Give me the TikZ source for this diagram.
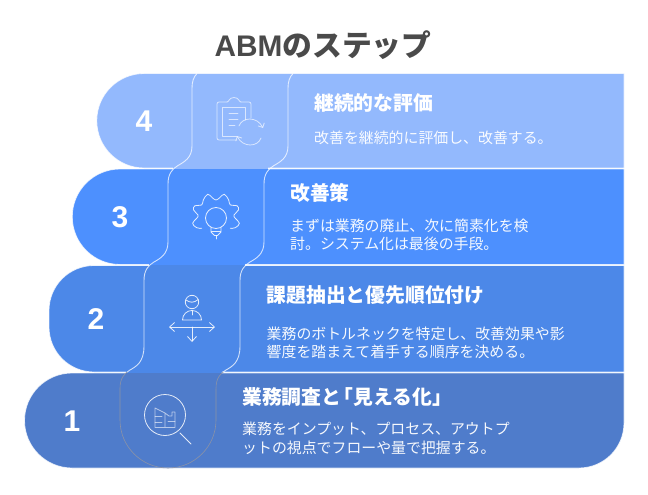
\documentclass[tikz,border=0pt]{standalone}
\usepackage{fontspec}
\usetikzlibrary{arrows.meta}
\newfontfamily\jp{Noto Sans CJK JP}
\newfontfamily\lat{Liberation Sans}
\definecolor{cfour}{HTML}{93B9FD}
\definecolor{cthree}{HTML}{4D90FE}
\definecolor{ctwo}{HTML}{4C88E8}
\definecolor{cone}{HTML}{4F7CCB}
\definecolor{ctitle}{HTML}{4A4A4A}
\definecolor{cgreyline}{HTML}{8C93A6}
\tikzset{
  bandfill/.style={draw=white,draw opacity=.75,line width=.8pt},
  wave/.style={draw=white,draw opacity=.75,line width=.9pt},
  iconline/.style={draw=white,line width=.8pt,line cap=round,line join=round},
  num/.style={text=white,font=\lat\bfseries\fontsize{30}{30}\selectfont,anchor=center},
  headtxt/.style={text=white,anchor=west,inner sep=0pt,font=\jp\bfseries\fontsize{19.8}{22}\selectfont},
  bodytxt/.style={text=white,text opacity=.95,anchor=west,inner sep=0pt,align=left,font=\jp\fontsize{14.9}{18.6}\selectfont},
  openhead/.style={-{Straight Barb[length=5pt,width=9pt,line width=.8pt]}}
}
% S-bend from column #1 down across a band boundary at #2
\newcommand\bend[2]{.. controls (#1,#2-10) and (#1-8,#2-6) .. (#1-14,#2-2.5) .. controls (#1-20,#2+1) and (#1-24,#2+6) .. (#1-24,#2+16)}
\begin{document}
\begin{tikzpicture}[x=1pt,y=-1pt]
\useasboundingbox (0,0) rectangle (648,495);
% bands
\path[bandfill,fill=cfour] (624,73.5) -- (144,73.5) .. controls (118,73.5) and (96.75,94.6) .. (96.75,120.75) .. controls (96.75,146.9) and (118,168) .. (144,168) -- (624,168) -- cycle;
\path[bandfill,fill=cthree] (624,169) -- (120,169) .. controls (93.6,169) and (72.25,190.4) .. (72.25,216.75) .. controls (72.25,243.1) and (93.6,264.5) .. (120,264.5) -- (624,264.5) -- cycle;
\path[bandfill,fill=ctwo] (624,265.5) -- (94,265.5) .. controls (69.1,265.5) and (49,285.6) .. (49,310.5) -- (49,327) .. controls (49,351.9) and (69.1,372) .. (94,372) -- (624,372) -- cycle;
\path[bandfill,fill=cone] (624,373) -- (72,373) .. controls (45.8,373) and (24.5,394.3) .. (24.5,420.5) .. controls (24.5,446.7) and (45.8,468) .. (72,468) -- (579,468) .. controls (603.9,468) and (624,447.9) .. (624,423) -- cycle;
% the column crosses the boundaries without white lines
\fill[cfour] (173,167) rectangle (268,168.6);
\fill[cthree] (173,168.6) rectangle (268,170);
\fill[cthree] (149,263.5) rectangle (245,264.9);
\fill[ctwo] (149,264.9) rectangle (245,266.5);
\fill[ctwo] (126,371) rectangle (222,372.6);
\fill[cone] (126,372.6) rectangle (222,374);
% column edges above band 1
\begin{scope}
\clip (0,0) rectangle (648,372.8);
\foreach \d in {0,96}{
\draw[wave,xshift=\d pt] (197,73.5) .. controls (193.5,77) and (192,82) .. (192,88) -- (192,146) \bend{192}{168} -- (168,242) \bend{168}{264.5} -- (144,346) \bend{144}{372.5};
}
\end{scope}
% column edges in band 1
\begin{scope}
\clip (0,372.8) rectangle (648,495);
\draw[draw=cgreyline,line width=.6pt] (144,346) \bend{144}{372.5} -- (120,420) .. controls (120,446.5) and (141.5,468) .. (168,468) .. controls (194.5,468) and (216,446.5) .. (216,420) -- (216,388.5);
\draw[draw=cgreyline,line width=.6pt] (240,346) \bend{240}{372.5};
\end{scope}
% numbers
\node[num] (n4) at (144,121) {4};
\node[num] (n3) at (120,217) {3};
\node[num] (n2) at (96,319) {2};
\node[num] (n1) at (72,421) {1};
% title
\node[text=ctitle,inner sep=0pt,anchor=center] (title) at (323,45) {\fontsize{29.8}{34}\selectfont\lat\bfseries ABM\jp\bfseries のステップ};
% texts
\node[headtxt] (h4) at (314,103) {継続的な評価};
\node[bodytxt] (b4) at (314,138) {改善を継続的に評価し、改善する。};
\node[headtxt] (h3) at (290,193) {改善策};
\node[bodytxt] (b3) at (290,235) {まずは業務の廃止、次に簡素化を検\\討。システム化は最後の手段。};
\node[headtxt] (h2) at (266.5,295) {課題抽出と優先順位付け};
\node[bodytxt] (b2) at (266.5,343) {業務のボトルネックを特定し、改善効果や影\\響度を踏まえて着手する順序を決める。};
\node[headtxt] (h1) at (242,397) {業務調査と\kern-7.5pt「見える化」};
\node[bodytxt] (b1) at (242,438.5) {業務をインプット、プロセス、アウトプ\\ットの視点でフローや量で把握する。};
% icon 4
\begin{scope}[iconline,draw opacity=.65]
\draw[rounded corners=2pt] (237,140) -- (217,140) -- (217,102) -- (227,102);
\draw (227,102) .. controls (229,102) and (229,97.5) .. (234,97.5) .. controls (239,97.5) and (239,102) .. (241,102);
\draw[rounded corners=2pt] (241,102) -- (251,102) -- (251,118);
\draw (237,136) -- (222,136) -- (222,107) -- (245,107) -- (245,120);
\draw (229,113.5) -- (238,113.5) (229,119.5) -- (238,119.5) (229,125) -- (235,125);
\draw[-{Straight Barb[length=3.5pt,width=7pt]}] (239,126) .. controls (242,117) and (257,116) .. (263,128);
\draw[-{Straight Barb[length=3.5pt,width=7pt]}] (261,138) .. controls (258,147) and (243,148) .. (237,136);
\end{scope}
% icon 3
\begin{scope}[iconline,draw opacity=.85]
\draw plot[smooth,tension=.7] coordinates {(201.7,228.3) (196.7,227.7) (192.6,223.3) (196.7,218.3) (198,215) (193.6,210) (195,205.7) (201.7,205) (203.3,200) (207.7,194.3) (212.3,197.7) (216,200) (219.7,197.7) (224.3,194.3) (228.7,200) (230.3,205) (237,205.7) (238.4,210) (234,215) (235.3,218.3) (239.4,223.3) (235.3,227.7) (230.3,228.3)};
\draw (216,218) circle[radius=10.5];
\draw (211,227.5) -- (211,232) -- (214.5,235.5) -- (217.5,235.5) -- (221,232) -- (221,227.5) (211,231.5) -- (221,231.5);
\draw (216,235.5) -- (216,239);
\end{scope}
% icon 2
\begin{scope}[iconline,draw opacity=.85]
\draw (192,302) circle[radius=6.7];
\draw (186,300) .. controls (190,303) and (194,303) .. (198.2,299.5);
\draw (182.5,320) .. controls (182.5,314.5) and (186.8,310.5) .. (192,310.5) .. controls (197.2,310.5) and (201.5,314.5) .. (201.5,320) -- cycle;
\draw (192,311) -- (192,315);
\draw[openhead] (192,327) -- (215,327);
\draw[openhead] (192,327) -- (169,327);
\draw[openhead] (192,327) -- (192,342);
\end{scope}
% icon 1
\begin{scope}[iconline,draw opacity=.85]
\draw (165,415) circle[radius=20.5];
\draw (180,433) -- (191,444);
\end{scope}
\begin{scope}[iconline,draw opacity=.6]
\draw (165,427.5) -- (155,427.5) -- (155,408) -- (165,413) -- (165,427.5) -- (175,427.5) -- (175,412) -- (172,412) -- (172,416) -- (169,416) -- (165,413);
\draw (155,416) -- (162,416) (155,422) -- (162,422) (168,421) -- (175,421);
\end{scope}
\end{tikzpicture}
\end{document}
